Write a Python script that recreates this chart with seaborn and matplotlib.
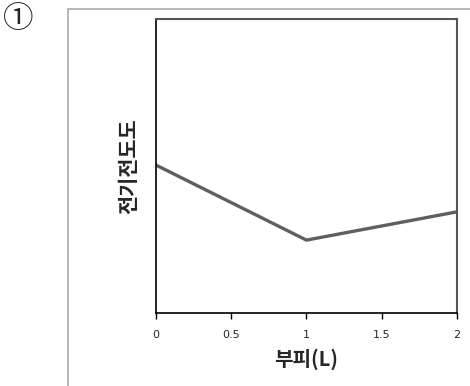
import matplotlib
matplotlib.use("Agg")
import matplotlib.pyplot as plt
import matplotlib.patches as patches
import pandas as pd
import seaborn as sns

# 부피(L) vs 전기전도도 (상대값)
volume = [0, 1, 2]
conductivity = [5.03, 2.48, 3.44]
x_ticks = [0, 0.5, 1, 1.5, 2]
x_tick_labels = ["0", "0.5", "1", "1.5", "2"]

df = pd.DataFrame({"부피(L)": volume, "전기전도도": conductivity})

sns.set_theme(style="white")
plt.rcParams['font.family'] = ['Noto Sans CJK KR', 'DejaVu Sans']

fig = plt.figure(figsize=(4.7, 3.86), dpi=100)
ax = fig.add_axes([0.332, 0.189, 0.640, 0.762])

sns.lineplot(data=df, x="부피(L)", y="전기전도도", ax=ax, color="#5f5f5f", linewidth=2.4)

ax.set_xlim(0, 2)
ax.set_ylim(0, 10)
ax.set_xticks(x_ticks)
ax.set_xticklabels(x_tick_labels, fontsize=8, family="DejaVu Sans")
ax.set_yticks([])
ax.tick_params(axis="x", direction="out", length=4, width=1, color="black", pad=8, bottom=True)

for side in ["left", "bottom"]:
    ax.spines[side].set_color("black")
    ax.spines[side].set_linewidth(1.2)
for side in ["top", "right"]:
    ax.spines[side].set_color("#555555")
    ax.spines[side].set_linewidth(1.5)

ax.set_xlabel("부피(L)", fontsize=14.5, fontweight="bold", labelpad=6)
ax.set_ylabel("전기전도도", fontsize=15, fontweight="bold", labelpad=12)

# outer frame
frame = patches.Rectangle((68 / 470, -0.05), 1.0, 1.05 - 9 / 386,
                          transform=fig.transFigure, fill=False,
                          edgecolor="#aaaaaa", linewidth=1.2, clip_on=False)
fig.patches.append(frame)

fig.text(18 / 470, 1 - 19 / 386, "①", fontsize=22, ha="center", va="center",
         family=['Noto Sans CJK KR', 'DejaVu Sans'])

fig.savefig("out.png", dpi=100)
